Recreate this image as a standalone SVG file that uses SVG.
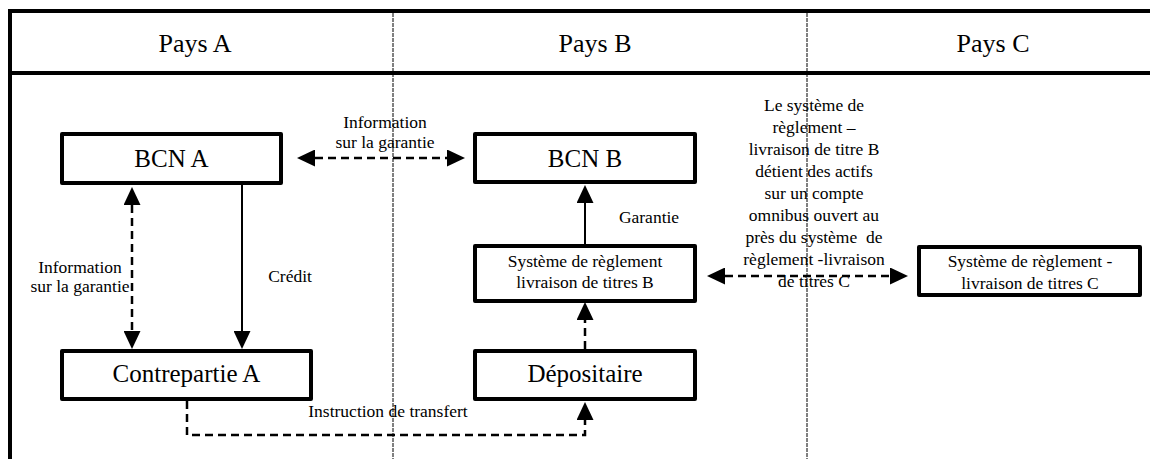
<svg xmlns="http://www.w3.org/2000/svg" width="1150" height="459" viewBox="0 0 1150 459">
<style>
text{fill:#000;text-anchor:middle}
.hdr{font-size:26px}
.big{font-size:25px}
.mid{font-size:17.5px}
.lbl{font-size:17.5px}
.box{fill:#fff;stroke:#000;stroke-width:4;stroke-linejoin:round}
.frame{stroke:#000;stroke-width:4;fill:none}
.div{stroke:#000;stroke-width:1;stroke-dasharray:4 1;fill:none}
.dash{stroke:#000;stroke-width:2.5;stroke-dasharray:8 5;fill:none}
.solid{stroke:#000;stroke-width:2;fill:none}
</style>
<defs>
<marker id="ah" markerUnits="userSpaceOnUse" markerWidth="18" markerHeight="17" refX="0" refY="8.5" orient="auto-start-reverse" viewBox="0 0 18 17">
<path d="M0,0 L18,8.5 L0,17 Z" fill="#000"/>
</marker>
</defs>
<rect width="1150" height="459" fill="#fff"/>
<g font-family="'Liberation Serif', 'DejaVu Serif', serif">
<g id="frame">
<line class="frame" x1="8" y1="11" x2="1150" y2="11"/>
<line class="frame" x1="10" y1="9" x2="10" y2="459"/>
<line class="frame" x1="10" y1="73" x2="1150" y2="73"/>
<line class="div" x1="393" y1="13" x2="393" y2="459"/>
<line class="div" x1="807" y1="13" x2="807" y2="459"/>
<text class="hdr" x="195" y="52">Pays A</text>
<text class="hdr" x="595" y="52">Pays B</text>
<text class="hdr" x="993" y="52">Pays C</text>
</g>
<g id="connectors">
<line class="dash" x1="315" y1="158" x2="447" y2="158" marker-start="url(#ah)" marker-end="url(#ah)"/>
<line class="dash" x1="132" y1="205" x2="132" y2="331" marker-start="url(#ah)" marker-end="url(#ah)"/>
<line class="solid" x1="242" y1="185" x2="242" y2="331" marker-end="url(#ah)"/>
<line class="solid" x1="585" y1="244" x2="585" y2="203" marker-end="url(#ah)"/>
<line class="dash" x1="585" y1="349" x2="585" y2="320" marker-end="url(#ah)"/>
<path class="dash" d="M187,401 V435 H585 V420" marker-end="url(#ah)"/>
<line class="dash" x1="725" y1="276" x2="890" y2="276" marker-start="url(#ah)" marker-end="url(#ah)"/>
<text class="lbl" x="385" y="128">Information</text>
<text class="lbl" x="385" y="148">sur la garantie</text>
<text class="lbl" x="80" y="273">Information</text>
<text class="lbl" x="80" y="292">sur la garantie</text>
<text class="lbl" x="290" y="282">Crédit</text>
<text class="lbl" x="649" y="223">Garantie</text>
<text class="lbl" x="388" y="417">Instruction de transfert</text>
<g id="note">
<text class="lbl" x="814" y="111">Le système de</text>
<text class="lbl" x="814" y="133">règlement –</text>
<text class="lbl" x="814" y="155">livraison de titre B</text>
<text class="lbl" x="814" y="177">détient des actifs</text>
<text class="lbl" x="814" y="199">sur un compte</text>
<text class="lbl" x="814" y="221">omnibus ouvert au</text>
<text class="lbl" x="814" y="243" style="white-space:pre">près du système  de</text>
<text class="lbl" x="814" y="265">règlement -livraison</text>
<text class="lbl" x="814" y="287">de titres C</text>
</g>
</g>
<g id="bcn-a">
<rect class="box" x="62" y="134" width="219" height="49"/>
<text class="big" x="171.5" y="167">BCN A</text>
</g>
<g id="bcn-b">
<rect class="box" x="475" y="134" width="220" height="48"/>
<text class="big" x="585" y="167">BCN B</text>
</g>
<g id="srl-b">
<rect class="box" x="475" y="246" width="220" height="55"/>
<text class="mid" x="585" y="267">Système de règlement</text>
<text class="mid" x="585" y="288">livraison de titres B</text>
</g>
<g id="srl-c">
<rect class="box" x="919" y="247" width="221" height="48"/>
<text class="mid" x="1030" y="267">Système de règlement -</text>
<text class="mid" x="1030" y="289">livraison de titres C</text>
</g>
<g id="contrepartie-a">
<rect class="box" x="62" y="351" width="249" height="48"/>
<text class="big" x="186.5" y="382">Contrepartie A</text>
</g>
<g id="depositaire">
<rect class="box" x="475" y="351" width="220" height="48"/>
<text class="big" x="585" y="382">Dépositaire</text>
</g>
</g>
</svg>
